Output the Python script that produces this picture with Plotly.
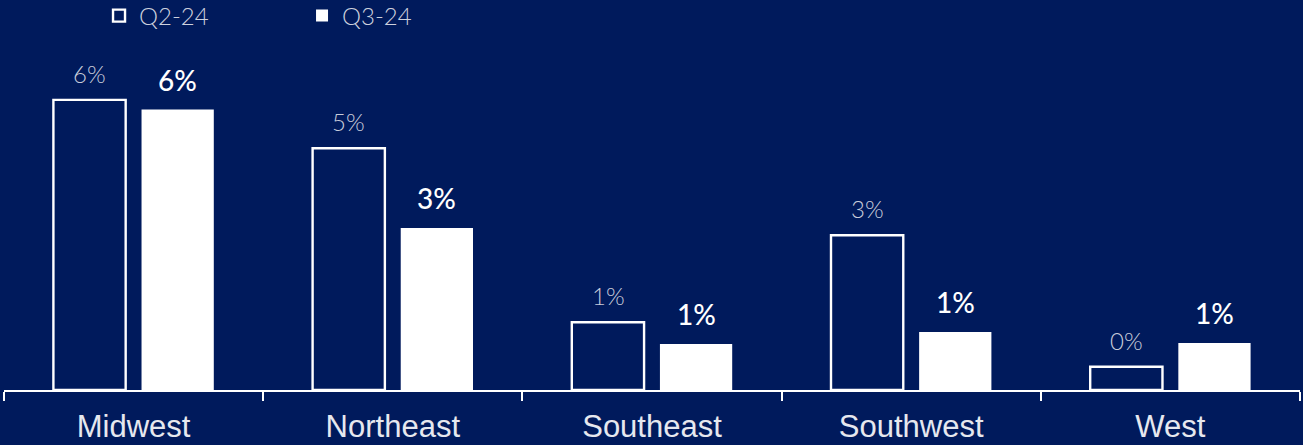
import plotly.graph_objects as go

categories = ["Midwest", "Northeast", "Southeast", "Southwest", "West"]
q2_values = [6.0, 5.0, 1.4, 3.2, 0.48]
q3_values = [5.8, 3.35, 0.95, 1.2, 0.97]
q2_labels = ["6%", "5%", "1%", "3%", "0%"]
q3_labels = ["6%", "3%", "1%", "1%", "1%"]

BG = "#001A5C"

fig = go.Figure()
fig.add_trace(go.Bar(
    x=categories, y=q2_values, name="Q2-24",
    marker=dict(color=BG, line=dict(color="white", width=2.4)),
))
fig.add_trace(go.Bar(
    x=categories, y=q3_values, name="Q3-24",
    marker=dict(color="white", line=dict(color="white", width=0)),
))

annotations = []
for cat, v, lab in zip(categories, q2_values, q2_labels):
    annotations.append(dict(
        x=cat, y=v, xref="x", yref="y", text=lab, showarrow=False,
        xshift=-44, yshift=10, yanchor="bottom",
        font=dict(family="Lato", size=24, color="#C8CCDA", weight=300),
    ))
for cat, v, lab in zip(categories, q3_values, q3_labels):
    annotations.append(dict(
        x=cat, y=v, xref="x", yref="y", text=lab, showarrow=False,
        xshift=44, yshift=11, yanchor="bottom",
        font=dict(family="Lato", size=28, color="white", weight=500),
    ))

fig.update_layout(
    width=1303, height=445,
    paper_bgcolor=BG, plot_bgcolor=BG,
    margin=dict(l=4, r=3, t=52, b=55, autoexpand=False),
    barmode="group", bargap=0.32, bargroupgap=0.18,
    showlegend=True,
    legend=dict(
        orientation="h", x=0.076, xanchor="left", y=0.964, yanchor="middle",
        yref="container", xref="container",
        font=dict(family="Lato", size=24, color="#CDD1DE", weight=300),
        entrywidth=158, entrywidthmode="pixels", itemwidth=30,
        bgcolor="rgba(0,0,0,0)",
    ),
    annotations=annotations,
    xaxis=dict(
        showline=True, linecolor="white", linewidth=2,
        ticks="outside", tickson="boundaries", ticklen=9, tickcolor="white", tickwidth=1.5,
        tickfont=dict(family="Liberation Sans", size=31, color="#E6E8EF"),
        ticklabelstandoff=8, automargin=False,
        showgrid=False, zeroline=False,
    ),
    yaxis=dict(
        range=[0, 6.99], visible=False, showgrid=False, zeroline=False,
        automargin=False,
    ),
)

fig.write_html("out.html")
